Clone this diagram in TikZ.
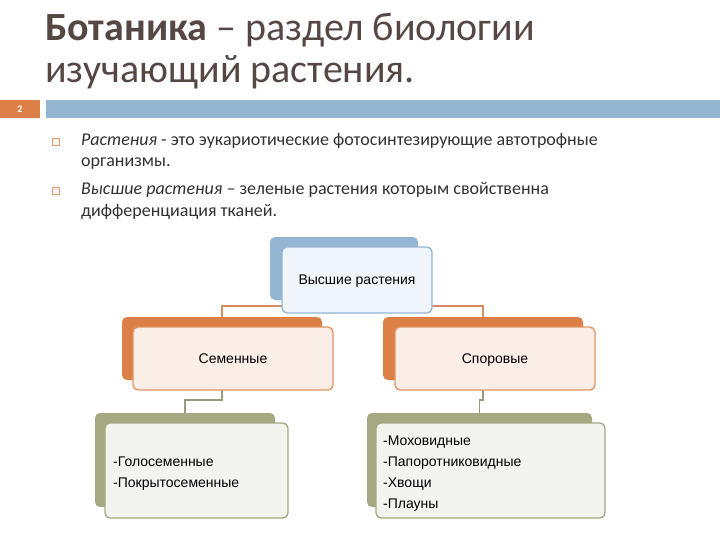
\documentclass[tikz,border=0pt]{standalone}
\usepackage{fontspec}
\setmainfont{Carlito}
\newfontfamily\arialf{Liberation Sans}
\definecolor{titlecol}{RGB}{85,72,68}
\definecolor{bodycol}{RGB}{50,50,50}
\definecolor{accorange}{RGB}{221,128,71}
\definecolor{barblue}{RGB}{148,182,210}
\definecolor{accolive}{RGB}{165,168,128}
\definecolor{fillblue}{RGB}{239,245,251}
\definecolor{fillorange}{RGB}{250,238,230}
\definecolor{fillolive}{RGB}{243,244,239}
\definecolor{connorange}{RGB}{214,140,96}
\definecolor{connolive}{RGB}{150,155,125}
\tikzset{
  backbox/.style={rounded corners=5pt, inner sep=0pt},
  frontbox/.style={rounded corners=5pt, inner sep=0pt, line width=1.3pt, font=\arialf\fontsize{14}{16}\selectfont, text=black},
  listtext/.style={anchor=base west, inner sep=0pt, font=\arialf\fontsize{14}{16}\selectfont, text=black},
  bodytext/.style={anchor=base west, inner sep=0pt, font=\fontsize{18}{21}\selectfont, text=bodycol},
  titletext/.style={anchor=base west, inner sep=0pt, font=\fontsize{40}{44}\selectfont, text=titlecol},
  bulletbox/.style={draw=accorange!80, fill=accorange!6, minimum size=7pt, inner sep=0pt, line width=0.6pt},
  connA/.style={draw=connorange, line width=1.1pt},
  connB/.style={draw=connolive, line width=1.1pt}
}
\begin{document}
\begin{tikzpicture}[x=1pt,y=-1pt]
\useasboundingbox (0,0) rectangle (720,540);
\fill[white] (0,0) rectangle (720,540);
% title
\node[titletext] (t1) at (45,41) {\textbf{Ботаника} – раздел биологии};
\node[titletext] (t2) at (45,83) {изучающий растения.};
% slide number and bar
\node[fill=accorange, minimum width=40pt, minimum height=18pt, inner sep=0pt, text=white, font=\fontsize{10}{10}\selectfont\bfseries] (num) at (20,109) {2};
\node[fill=barblue, minimum width=674pt, minimum height=18pt, inner sep=0pt] (bar) at (383,109) {};
% bullets
\node[bulletbox] (b1) at (56,142) {};
\node[bulletbox] (b2) at (56,191) {};
\node[bodytext] (p1a) at (81,146) {\textit{Растения} - это эукариотические фотосинтезирующие автотрофные};
\node[bodytext] (p1b) at (81,167) {организмы.};
\node[bodytext] (p2a) at (81,195) {\textit{Высшие растения} – зеленые растения которым свойственна};
\node[bodytext] (p2b) at (81,216) {дифференциация тканей.};
% back boxes
\node[backbox, fill=barblue, minimum width=148pt, minimum height=63pt] (topB) at (344,268.5) {};
\node[backbox, fill=accorange, minimum width=200pt, minimum height=63pt] (semB) at (222,348.5) {};
\node[backbox, fill=accorange, minimum width=200pt, minimum height=63pt] (sporB) at (483,348.5) {};
\node[backbox, fill=accolive, minimum width=180pt, minimum height=94pt] (gB) at (185,460) {};
\node[backbox, fill=accolive, minimum width=225pt, minimum height=94pt] (mB) at (479.5,460) {};
% connectors
\coordinate (j1) at (344,306);
\coordinate (j2) at (222,400);
\coordinate (j3) at (483,400);
\draw[connA] (topB.south) -- (j1) -| (semB.north);
\draw[connA] (j1) -| (sporB.north);
\draw[connB] (semB.south) -- (j2) -| (gB.north);
\draw[connB] (sporB.south) -- (j3) -| (mB.north);
% front boxes
\node[frontbox, draw=barblue, fill=fillblue, minimum width=150pt, minimum height=66pt, text depth=-3pt] (topF) at (357,280) {Высшие растения};
\node[frontbox, draw=accorange!85, fill=fillorange, minimum width=200pt, minimum height=63pt, text depth=-3pt] (semF) at (233,358.5) {Семенные};
\node[frontbox, draw=accorange!85, fill=fillorange, minimum width=200pt, minimum height=63pt, text depth=-3pt] (sporF) at (495,358.5) {Споровые};
\node[frontbox, draw=accolive, fill=fillolive, minimum width=183pt, minimum height=95pt] (gF) at (196.5,470.5) {};
\node[frontbox, draw=accolive, fill=fillolive, minimum width=229pt, minimum height=95pt] (mF) at (490.5,470.5) {};
% list texts
\node[listtext] (g1) at (113,466) {-Голосеменные};
\node[listtext] (g2) at (113,487) {-Покрытосеменные};
\node[listtext] (m1) at (383,445) {-Моховидные};
\node[listtext] (m2) at (383,466) {-Папоротниковидные};
\node[listtext] (m3) at (383,487) {-Хвощи};
\node[listtext] (m4) at (383,508) {-Плауны};
\end{tikzpicture}
\end{document}
